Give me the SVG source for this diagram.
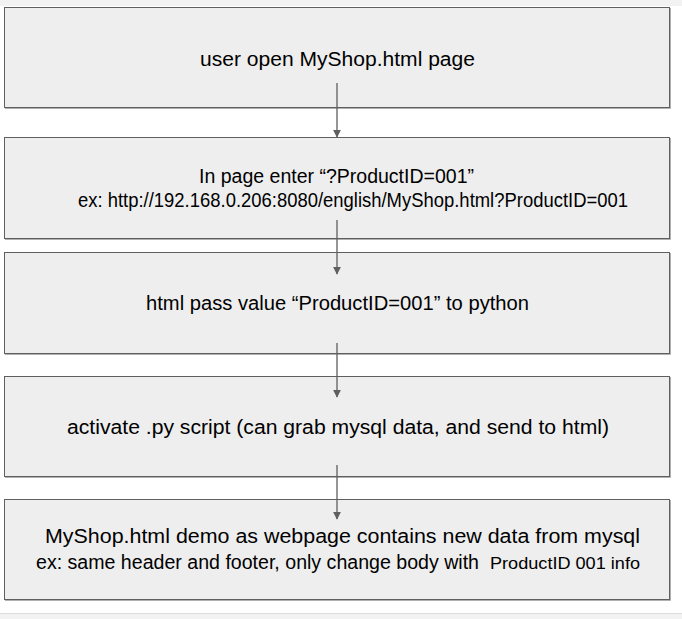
<svg xmlns="http://www.w3.org/2000/svg" width="682" height="619" viewBox="0 0 682 619">
<defs>
<style>
.box{fill:#eeeeee;stroke:#5f5f5f;stroke-width:1}
.sh{fill:none;stroke:#b0b0b0;stroke-width:1}
.t{font-family:"Liberation Sans",Arial,sans-serif;font-size:19.5px;fill:#000;text-anchor:middle}
.l{text-anchor:start}
.s{font-size:17px}
.c{stroke:#5f5f5f;stroke-width:1.3;fill:none}
</style>
<marker id="ah" viewBox="0 0 10 10" refX="9" refY="5" markerWidth="8" markerHeight="8" markerUnits="userSpaceOnUse" orient="auto">
<path d="M0,0 L10,5 L0,10 z" fill="#5f5f5f"/>
</marker>
</defs>
<rect x="0" y="0" width="682" height="619" fill="#ffffff"/>
<rect x="0" y="0" width="682" height="6" fill="#f2f2f2"/>
<rect x="0" y="613" width="682" height="6" fill="#f2f2f2"/>
<line x1="0" y1="613.5" x2="682" y2="613.5" stroke="#dddddd"/>
<g id="n1">
<rect class="box" x="4.5" y="7.5" width="665" height="100"/>
<polyline class="sh" points="670.5,8 670.5,108.5 5,108.5"/>
<text class="t" x="337.5" y="66" textLength="275" lengthAdjust="spacingAndGlyphs">user open MyShop.html page</text>
</g>
<g id="n2">
<rect class="box" x="4.5" y="137.5" width="665" height="101"/>
<polyline class="sh" points="670.5,138 670.5,239.5 5,239.5"/>
<text class="t" x="336.5" y="183" textLength="275" lengthAdjust="spacingAndGlyphs">In page enter “?ProductID=001”</text>
<text class="t" x="353" y="207" textLength="550" lengthAdjust="spacingAndGlyphs">ex: http://192.168.0.206:8080/english/MyShop.html?ProductID=001</text>
</g>
<g id="n3">
<rect class="box" x="4.5" y="252.5" width="665" height="101"/>
<polyline class="sh" points="670.5,253 670.5,354.5 5,354.5"/>
<text class="t" x="337.5" y="310" textLength="383" lengthAdjust="spacingAndGlyphs">html pass value “ProductID=001” to python</text>
</g>
<g id="n4">
<rect class="box" x="4.5" y="376.5" width="665" height="100"/>
<polyline class="sh" points="670.5,377 670.5,477.5 5,477.5"/>
<text class="t" x="338" y="434" textLength="542" lengthAdjust="spacingAndGlyphs">activate .py script (can grab mysql data, and send to html)</text>
</g>
<g id="n5">
<rect class="box" x="4.5" y="499.5" width="665" height="100"/>
<polyline class="sh" points="670.5,500 670.5,600.5 5,600.5"/>
<text class="t" x="342.5" y="543" textLength="595" lengthAdjust="spacingAndGlyphs">MyShop.html demo as webpage contains new data from mysql</text>
<text class="t l" x="36" y="569" textLength="443" lengthAdjust="spacingAndGlyphs">ex: same header and footer, only change body with</text>
<text class="t l s" x="490" y="569" textLength="150" lengthAdjust="spacingAndGlyphs">ProductID 001 info</text>
</g>
<g id="connectors">
<line class="c" x1="337" y1="83" x2="337" y2="137" marker-end="url(#ah)"/>
<line class="c" x1="337" y1="220" x2="337" y2="274" marker-end="url(#ah)"/>
<line class="c" x1="337" y1="343" x2="337" y2="397" marker-end="url(#ah)"/>
<line class="c" x1="337" y1="465" x2="337" y2="519" marker-end="url(#ah)"/>
</g>
</svg>
